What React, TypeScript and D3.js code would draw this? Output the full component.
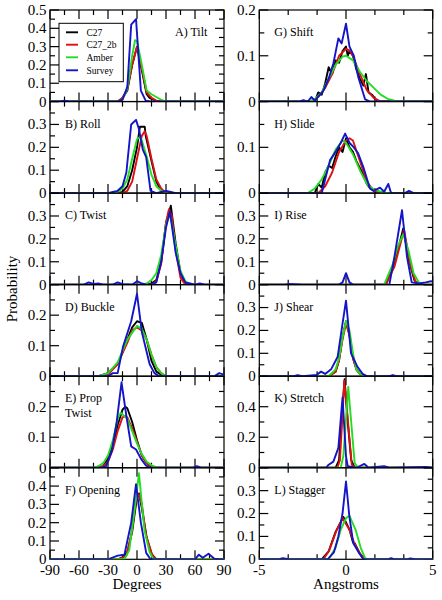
import React from "react";
import * as d3 from "d3";

type Pt = [number, number];

// ---------- legend / series ----------
const seriesNames = ["C27", "C27_2b", "Amber", "Survey"];
const seriesColors = ["#000000", "#dd1111", "#22dd22", "#1414c8"];

// ---------- axis ticks ----------
const degMajor = [-90, -60, -30, 0, 30, 60, 90];
const degMinor = [-75, -45, -15, 15, 45, 75];
const angMajor = [-5, 0, 5];
const angMinor = [-10 / 3, -5 / 3, 5 / 3, 10 / 3];

// ---------- A) Tilt ----------
const tiltC27: Pt[] = [[-90,0],[-20,0],[-15,0.02],[-10,0.06],[-5,0.2],[0,0.3],[5,0.17],[10,0.04],[13,0.02],[17,0.01],[20,0],[90,0]];
const tiltC27_2b: Pt[] = [[-90,0],[-20,0],[-15,0.02],[-10,0.07],[-5,0.2],[0,0.3],[5,0.18],[10,0.05],[15,0.02],[20,0.005],[25,0],[90,0]];
const tiltAmber: Pt[] = [[-90,0],[-20,0],[-15,0.01],[-10,0.07],[-5,0.25],[-2,0.335],[0,0.33],[5,0.2],[10,0.06],[15,0.04],[20,0.025],[25,0.01],[30,0],[90,0]];
const tiltSurvey: Pt[] = [[-90,0],[-80,0],[-75,0.005],[-70,0],[-20,0],[-15,0.01],[-10,0.08],[-6,0.42],[-1,0.45],[4,0.06],[9,0.005],[14,0],[90,0]];

// ---------- B) Roll ----------
const rollC27: Pt[] = [[-90,0],[-20,0],[-15,0.005],[-10,0.03],[-5,0.1],[0,0.2],[3,0.29],[8,0.29],[9,0.25],[15,0.14],[20,0.05],[25,0.01],[30,0],[90,0]];
const rollC27_2b: Pt[] = [[-90,0],[-15,0],[-10,0.01],[-5,0.05],[0,0.15],[5,0.25],[8,0.27],[10,0.25],[15,0.15],[20,0.06],[25,0.02],[30,0],[90,0]];
const rollAmber: Pt[] = [[-90,0],[-25,0],[-20,0.005],[-15,0.02],[-10,0.06],[-5,0.15],[0,0.235],[3,0.245],[5,0.23],[10,0.16],[15,0.08],[20,0.03],[25,0.01],[30,0],[90,0]];
const rollSurvey: Pt[] = [[-90,0],[-30,0],[-25,0.005],[-20,0.01],[-15,0.03],[-11,0.09],[-6,0.3],[-1,0.32],[2,0.28],[6,0.19],[9.5,0.157],[14,0.01],[20,0],[25,0.005],[30,0.01],[35,0.005],[40,0],[90,0]];

// ---------- C) Twist ----------
const twistC27: Pt[] = [[-90,0],[10,0],[15,0.005],[20,0.02],[25,0.1],[30,0.27],[35,0.345],[40,0.18],[45,0.05],[50,0.005],[55,0],[90,0]];
const twistC27_2b: Pt[] = [[-90,0],[15,0],[20,0.015],[25,0.09],[30,0.27],[33,0.33],[36,0.3],[40,0.15],[45,0.03],[50,0],[90,0]];
const twistAmber: Pt[] = [[-90,0],[5,0],[10,0.005],[15,0.02],[20,0.05],[25,0.13],[30,0.26],[33,0.3],[35,0.29],[40,0.17],[45,0.06],[50,0.015],[55,0],[90,0]];
const twistSurvey: Pt[] = [[-90,0],[-55,0],[-50,0.01],[-45,0.003],[-40,0.005],[-35,0],[-25,0],[-20,0.01],[-15,0.002],[-5,0],[0,0.015],[5,0.005],[10,0],[15,0],[20,0.01],[25,0.1],[30,0.25],[34,0.32],[40,0.14],[45,0.05],[50,0.01],[55,0.005],[60,0],[65,0.005],[70,0],[90,0]];

// ---------- D) Buckle ----------
const buckleC27: Pt[] = [[-90,0],[-40,0],[-30,0.01],[-20,0.04],[-10,0.12],[-5,0.16],[0,0.18],[5,0.175],[10,0.12],[15,0.05],[20,0.015],[25,0.005],[30,0],[90,0]];
const buckleC27_2b: Pt[] = [[-90,0],[-35,0],[-30,0.005],[-20,0.04],[-10,0.11],[-5,0.15],[0,0.16],[5,0.15],[10,0.12],[15,0.07],[20,0.03],[25,0.01],[30,0],[90,0]];
const buckleAmber: Pt[] = [[-90,0],[-40,0],[-30,0.01],[-20,0.045],[-10,0.12],[0,0.165],[5,0.155],[10,0.12],[15,0.07],[20,0.03],[25,0.01],[30,0],[90,0]];
const buckleSurvey: Pt[] = [[-90,0],[-30,0],[-25,0.01],[-20,0.01],[-14.5,0.096],[-6,0.18],[0,0.27],[5,0.145],[13,0.04],[18,0.01],[23,0],[80,0],[85,0.01],[90,0.005]];

// ---------- E) Prop Twist ----------
const propC27: Pt[] = [[-90,0],[-40,0],[-35,0.005],[-30,0.03],[-25,0.07],[-20,0.14],[-15,0.19],[-12,0.2],[-10,0.195],[-5,0.15],[0,0.09],[5,0.04],[10,0.015],[15,0.003],[20,0],[90,0]];
const propC27_2b: Pt[] = [[-90,0],[-40,0],[-35,0.005],[-30,0.02],[-25,0.06],[-20,0.12],[-15,0.165],[-12,0.17],[-10,0.165],[-5,0.13],[0,0.085],[5,0.04],[10,0.015],[15,0.005],[20,0],[90,0]];
const propAmber: Pt[] = [[-90,0],[-45,0],[-40,0.005],[-35,0.015],[-30,0.04],[-25,0.09],[-20,0.16],[-17,0.18],[-15,0.175],[-10,0.16],[-5,0.12],[0,0.08],[5,0.045],[10,0.02],[15,0.008],[20,0.002],[25,0],[90,0]];
const propSurvey: Pt[] = [[-90,0],[-37,0],[-32,0.005],[-26,0.055],[-21,0.15],[-16,0.28],[-11,0.17],[-6,0.07],[-1,0.06],[4,0.03],[9,0.008],[14,0],[58,0],[62,0.005],[66,0],[90,0]];

// ---------- F) Opening ----------
const openC27: Pt[] = [[-90,0],[-20,0],[-15,0.01],[-10,0.04],[-5,0.15],[0,0.34],[2,0.36],[5,0.28],[10,0.12],[15,0.03],[20,0],[90,0]];
const openC27_2b: Pt[] = [[-90,0],[-18,0],[-11,0.02],[-6,0.13],[-1,0.33],[2,0.355],[5,0.3],[9.5,0.125],[16,0.02],[20,0],[90,0]];
const openAmber: Pt[] = [[-90,0],[-13,0],[-8,0.05],[-3,0.25],[2,0.47],[7.7,0.16],[13,0.04],[17,0],[90,0]];
const openSurvey: Pt[] = [[-90,0],[-30,0],[-20,0.02],[-13,0.025],[-6,0.2],[-1,0.41],[4,0.2],[9.5,0.035],[14,0],[60,0],[64,0.025],[68,0.008],[74,0.03],[80,0.003],[85,0],[90,0]];

// ---------- G) Shift ----------
const shiftC27: Pt[] = [[-5,0],[-1.8,0],[-1.6,0.02],[-1.4,0.015],[-1.2,0.04],[-1.0,0.075],[-0.8,0.06],[-0.6,0.09],[-0.4,0.085],[-0.2,0.11],[0,0.12],[0.1,0.1],[0.2,0.11],[0.4,0.1],[0.6,0.07],[0.8,0.05],[1.0,0.035],[1.15,0.06],[1.3,0.02],[1.5,0.015],[1.7,0.005],[1.9,0],[5,0]];
const shiftC27_2b: Pt[] = [[-5,0],[-2,0],[-1.6,0.01],[-1.2,0.03],[-0.8,0.06],[-0.4,0.1],[0,0.115],[0.2,0.112],[0.4,0.1],[0.8,0.06],[1.2,0.025],[1.6,0.008],[2.0,0],[5,0]];
const shiftAmber: Pt[] = [[-5,0],[-2.2,0],[-1.8,0.005],[-1.4,0.02],[-1.0,0.05],[-0.6,0.08],[-0.2,0.098],[0,0.1],[0.4,0.09],[0.8,0.065],[1.2,0.045],[1.6,0.03],[2.0,0.015],[2.4,0.006],[2.8,0.002],[3.2,0],[5,0]];
const shiftSurvey: Pt[] = [[-5,0],[-2.7,0],[-2.46,0.003],[-2.2,0],[-2.0,0.01],[-1.8,0.002],[-1.5,0.015],[-1.3,0.024],[-1.0,0.05],[-0.73,0.083],[-0.44,0.138],[-0.25,0.127],[0,0.17],[0.2,0.12],[0.45,0.1],[0.71,0.053],[1.1,0.005],[1.4,0],[5,0]];

// ---------- H) Slide ----------
const slideC27: Pt[] = [[-5,0],[-1.8,0],[-1.6,0.02],[-1.4,0.012],[-1.2,0.045],[-1.0,0.06],[-0.8,0.055],[-0.6,0.08],[-0.4,0.1],[-0.2,0.09],[0,0.12],[0.2,0.1],[0.4,0.09],[0.6,0.07],[0.8,0.055],[1.0,0.04],[1.2,0.02],[1.4,0.01],[1.6,0.005],[1.8,0],[5,0]];
const slideC27_2b: Pt[] = [[-5,0],[-1.6,0],[-1.2,0.015],[-0.8,0.045],[-0.4,0.09],[0,0.115],[0.2,0.12],[0.4,0.115],[0.8,0.07],[1.2,0.025],[1.6,0.005],[2.0,0],[5,0]];
const slideAmber: Pt[] = [[-5,0],[-2.2,0],[-1.8,0.01],[-1.4,0.03],[-1.0,0.06],[-0.6,0.095],[-0.2,0.115],[0,0.11],[0.4,0.085],[0.8,0.05],[1.2,0.02],[1.6,0.008],[2.0,0.003],[2.4,0],[5,0]];
const slideSurvey: Pt[] = [[-5,0],[-1.4,0],[-0.92,0.072],[-0.6,0.09],[-0.3,0.11],[-0.05,0.13],[0.2,0.11],[0.45,0.1],[0.7,0.087],[1.0,0.057],[1.38,0.01],[1.6,0.005],[1.96,0.012],[2.2,0.003],[2.44,0.02],[2.6,0],[3.4,0],[3.63,0.005],[3.9,0],[5,0]];

// ---------- I) Rise ----------
const riseC27: Pt[] = [[-5,0],[2.3,0],[2.8,0.09],[3.3,0.245],[3.65,0.1],[3.94,0.02],[4.2,0],[5,0]];
const riseC27_2b: Pt[] = [[-5,0],[2.3,0],[2.8,0.08],[3.35,0.24],[3.7,0.09],[4.0,0.015],[4.3,0],[5,0]];
const riseAmber: Pt[] = [[-5,0],[2.2,0],[2.7,0.09],[3.0,0.17],[3.3,0.22],[3.6,0.15],[3.9,0.05],[4.2,0.01],[4.5,0],[5,0]];
const riseSurvey: Pt[] = [[-5,0],[-3.5,0],[-3.3,0.003],[-2.5,0],[-0.4,0],[-0.2,0.01],[0,0.05],[0.2,0.01],[0.4,0],[2.5,0],[2.79,0.12],[3.23,0.325],[3.52,0.12],[3.79,0.01],[4.2,0.005],[4.6,0.01],[4.9,0.015],[5,0.012]];

// ---------- J) Shear ----------
const shearC27: Pt[] = [[-5,0],[-1.0,0],[-0.6,0.02],[-0.4,0.07],[-0.2,0.17],[0,0.24],[0.2,0.18],[0.4,0.08],[0.6,0.03],[0.8,0.01],[1.0,0],[5,0]];
const shearC27_2b: Pt[] = [[-5,0],[-1.0,0],[-0.6,0.02],[-0.4,0.07],[-0.2,0.16],[0,0.23],[0.2,0.18],[0.4,0.08],[0.6,0.03],[0.8,0.01],[1.0,0],[5,0]];
const shearAmber: Pt[] = [[-5,0],[-1.0,0],[-0.6,0.03],[-0.4,0.08],[-0.2,0.17],[0,0.24],[0.2,0.2],[0.4,0.1],[0.6,0.03],[0.8,0.01],[1.0,0],[5,0]];
const shearSurvey: Pt[] = [[-5,0],[-3.0,0],[-2.8,0.005],[-2.5,0],[-1.7,0.005],[-1.44,0.02],[-1.2,0.01],[-0.86,0.03],[-0.48,0.085],[-0.2,0.23],[0,0.33],[0.29,0.1],[0.67,0.04],[0.96,0.01],[1.2,0],[2.5,0],[2.7,0.005],[2.9,0],[5,0]];

// ---------- K) Stretch ----------
const stretchC27: Pt[] = [[-5,0],[-0.6,0],[-0.4,0.05],[-0.2,0.4],[-0.08,0.58],[0.1,0.3],[0.3,0.05],[0.5,0],[5,0]];
const stretchC27_2b: Pt[] = [[-5,0],[-0.5,0],[-0.35,0.05],[-0.2,0.35],[-0.1,0.57],[0.1,0.32],[0.33,0.02],[0.5,0],[5,0]];
const stretchAmber: Pt[] = [[-5,0],[-0.3,0],[-0.15,0.08],[0,0.32],[0.13,0.53],[0.3,0.3],[0.5,0.03],[0.7,0],[5,0]];
const stretchSurvey: Pt[] = [[-5,0],[-1.15,0],[-1.0,0.02],[-0.73,0.04],[-0.44,0.13],[-0.2,0.46],[0,0.075],[0.1,0.01],[0.6,0],[1.06,0.025],[1.3,0],[2.2,0.01],[2.5,0],[4.6,0.005],[5,0]];

// ---------- L) Stagger ----------
const staggerC27: Pt[] = [[-5,0],[-1.4,0],[-1.0,0.035],[-0.6,0.12],[-0.15,0.185],[0.2,0.13],[0.4,0.075],[0.5,0.07],[0.8,0.025],[1.1,0],[5,0]];
const staggerC27_2b: Pt[] = [[-5,0],[-1.3,0],[-0.96,0.04],[-0.58,0.12],[-0.2,0.18],[0.19,0.13],[0.48,0.07],[0.77,0.03],[1.0,0.005],[1.2,0],[5,0]];
const staggerAmber: Pt[] = [[-5,0],[-1.0,0],[-0.6,0.05],[-0.3,0.13],[0,0.18],[0.2,0.19],[0.55,0.13],[0.85,0.05],[1.1,0.005],[1.3,0],[5,0]];
const staggerSurvey: Pt[] = [[-5,0],[-3.9,0],[-3.65,0.005],[-3.3,0],[-1.06,0],[-0.7,0.03],[-0.44,0.1],[-0.2,0.2],[0,0.34],[0.19,0.19],[0.42,0.07],[0.77,0.025],[1.0,0],[2.4,0],[2.6,0.005],[2.8,0],[3.5,0],[3.7,0.004],[4.0,0],[5,0]];

// ---------- panel settings ----------
type Panel = { label: string[]; right?: boolean; yMax: number; yMajor: number; yMinor: number; yLabelMax: number; series: Pt[][] };

const leftPanels: Panel[] = [
  { label: ["A) Tilt"], right: true, yMax: 0.5, yMajor: 0.1, yMinor: 0.05, yLabelMax: 0.5, series: [tiltC27, tiltC27_2b, tiltAmber, tiltSurvey] },
  { label: ["B) Roll"], yMax: 0.4, yMajor: 0.1, yMinor: 0.05, yLabelMax: 0.3, series: [rollC27, rollC27_2b, rollAmber, rollSurvey] },
  { label: ["C) Twist"], yMax: 0.4, yMajor: 0.1, yMinor: 0.05, yLabelMax: 0.3, series: [twistC27, twistC27_2b, twistAmber, twistSurvey] },
  { label: ["D) Buckle"], yMax: 0.3, yMajor: 0.1, yMinor: 0.05, yLabelMax: 0.2, series: [buckleC27, buckleC27_2b, buckleAmber, buckleSurvey] },
  { label: ["E) Prop", "Twist"], yMax: 0.3, yMajor: 0.1, yMinor: 0.05, yLabelMax: 0.2, series: [propC27, propC27_2b, propAmber, propSurvey] },
  { label: ["F) Opening"], yMax: 0.5, yMajor: 0.1, yMinor: 0.05, yLabelMax: 0.4, series: [openC27, openC27_2b, openAmber, openSurvey] },
];
const rightPanels: Panel[] = [
  { label: ["G) Shift"], yMax: 0.2, yMajor: 0.1, yMinor: 0.05, yLabelMax: 0.2, series: [shiftC27, shiftC27_2b, shiftAmber, shiftSurvey] },
  { label: ["H) Slide"], yMax: 0.2, yMajor: 0.1, yMinor: 0.05, yLabelMax: 0.1, series: [slideC27, slideC27_2b, slideAmber, slideSurvey] },
  { label: ["I) Rise"], yMax: 0.4, yMajor: 0.1, yMinor: 0.05, yLabelMax: 0.3, series: [riseC27, riseC27_2b, riseAmber, riseSurvey] },
  { label: ["J) Shear"], yMax: 0.4, yMajor: 0.1, yMinor: 0.05, yLabelMax: 0.3, series: [shearC27, shearC27_2b, shearAmber, shearSurvey] },
  { label: ["K) Stretch"], yMax: 0.6, yMajor: 0.2, yMinor: 0.1, yLabelMax: 0.4, series: [stretchC27, stretchC27_2b, stretchAmber, stretchSurvey] },
  { label: ["L) Stagger"], yMax: 0.4, yMajor: 0.1, yMinor: 0.05, yLabelMax: 0.3, series: [staggerC27, staggerC27_2b, staggerAmber, staggerSurvey] },
];

const FONT = "Liberation Serif, DejaVu Serif, serif";
const TOP = 10;
const BOTTOM = 559.3;
const NP = 6;
const PH = (BOTTOM - TOP) / NP;
const MAJ = 9;
const MIN = 5;

const columns = [
  { x0: 50, x1: 224, domain: [-90, 90] as [number, number], major: degMajor, minor: degMinor, panels: leftPanels, title: "Degrees", id: "L" },
  { x0: 259.3, x1: 432.7, domain: [-5, 5] as [number, number], major: angMajor, minor: angMinor, panels: rightPanels, title: "Angstroms", id: "R" },
];

const fmt = (v: number) => (Math.abs(v) < 1e-9 ? "0" : String(+v.toFixed(1)));

function PanelView({ col, p, i }: { col: typeof columns[number]; p: Panel; i: number }) {
  const y0 = TOP + i * PH;
  const y1 = y0 + PH;
  const x = d3.scaleLinear().domain(col.domain).range([col.x0, col.x1]);
  const y = d3.scaleLinear().domain([0, p.yMax]).range([y1, y0]);
  const line = d3.line<Pt>().x((d) => x(d[0])).y((d) => y(d[1]));
  const yMajors = d3.range(0, p.yMax + 1e-9, p.yMajor);
  const yMinors = d3.range(0, p.yMax + 1e-9, p.yMinor).filter((v) => yMajors.every((m) => Math.abs(m - v) > 1e-9));
  const yLabels = yMajors.filter((v) => v <= p.yLabelMax + 1e-9);
  const clipId = `clip-${col.id}-${i}`;
  const isBottom = i === NP - 1;
  const lx = p.right ? col.x0 + 125 : col.x0 + 15;
  return (
    <g>
      <defs>
        <clipPath id={clipId}>
          <rect x={col.x0} y={y0} width={col.x1 - col.x0} height={y1 - y0} />
        </clipPath>
      </defs>
      <rect x={col.x0} y={y0} width={col.x1 - col.x0} height={y1 - y0} fill="none" stroke="#000" strokeWidth={1.2} />
      {yMajors.map((v) => (
        <g key={"ym" + v}>
          <line x1={col.x0} x2={col.x0 + MAJ} y1={y(v)} y2={y(v)} stroke="#000" strokeWidth={1.2} />
          <line x1={col.x1} x2={col.x1 - MAJ} y1={y(v)} y2={y(v)} stroke="#000" strokeWidth={1.2} />
        </g>
      ))}
      {yMinors.map((v) => (
        <g key={"yn" + v}>
          <line x1={col.x0} x2={col.x0 + MIN} y1={y(v)} y2={y(v)} stroke="#000" strokeWidth={1.2} />
          <line x1={col.x1} x2={col.x1 - MIN} y1={y(v)} y2={y(v)} stroke="#000" strokeWidth={1.2} />
        </g>
      ))}
      {yLabels.map((v) => (
        <text key={"yl" + v} x={col.x0 - 3.5} y={y(v)} dy="0.33em" textAnchor="end" fontSize={15}>
          {fmt(v)}
        </text>
      ))}
      {col.major.map((v) => (
        <g key={"xm" + v}>
          <line x1={x(v)} x2={x(v)} y1={y0} y2={y0 + MAJ} stroke="#000" strokeWidth={1.2} />
          <line x1={x(v)} x2={x(v)} y1={y1} y2={y1 - MAJ} stroke="#000" strokeWidth={1.2} />
        </g>
      ))}
      {col.minor.map((v) => (
        <g key={"xn" + v}>
          <line x1={x(v)} x2={x(v)} y1={y0} y2={y0 + MIN} stroke="#000" strokeWidth={1.2} />
          <line x1={x(v)} x2={x(v)} y1={y1} y2={y1 - MIN} stroke="#000" strokeWidth={1.2} />
        </g>
      ))}
      {isBottom &&
        col.major.map((v) => (
          <text key={"xl" + v} x={x(v)} y={y1 + 16} textAnchor="middle" fontSize={15}>
            {String(v)}
          </text>
        ))}
      <g clipPath={`url(#${clipId})`}>
        {p.series.map((s, k) => (
          <path key={k} d={line(s) || ""} fill="none" stroke={seriesColors[k]} strokeWidth={1.9} strokeLinejoin="round" />
        ))}
      </g>
      {p.label.map((t, k) => (
        <text key={"lab" + k} x={lx} y={y0 + 26 + k * 15} fontSize={12}>
          {t}
        </text>
      ))}
    </g>
  );
}

export default function App() {
  const legendRows = [32.3, 44.7, 57.3, 70.3];
  return (
    <svg
      width={442}
      height={600}
      fontFamily={FONT}
      style={{ position: "absolute", left: 0, top: 0, background: "#fff", fontFamily: FONT }}
    >
      <rect x={0} y={0} width={442} height={600} fill="#fff" />
      {columns.map((col) => (
        <g key={col.id}>
          {col.panels.map((p, i) => (
            <PanelView key={i} col={col} p={p} i={i} />
          ))}
          <text x={(col.x0 + col.x1) / 2} y={589} textAnchor="middle" fontSize={15}>
            {col.title}
          </text>
        </g>
      ))}
      <text transform="translate(17,289) rotate(-90)" textAnchor="middle" fontSize={15}>
        Probability
      </text>
      <rect x={59} y={23.3} width={64.3} height={58.4} fill="#fff" stroke="#000" strokeWidth={1} />
      {seriesNames.map((n, k) => (
        <g key={n}>
          <line x1={66} x2={78} y1={legendRows[k]} y2={legendRows[k]} stroke={seriesColors[k]} strokeWidth={1.9} />
          <text x={86.5} y={legendRows[k]} dy="0.35em" fontSize={9.5}>
            {n}
          </text>
        </g>
      ))}
    </svg>
  );
}
